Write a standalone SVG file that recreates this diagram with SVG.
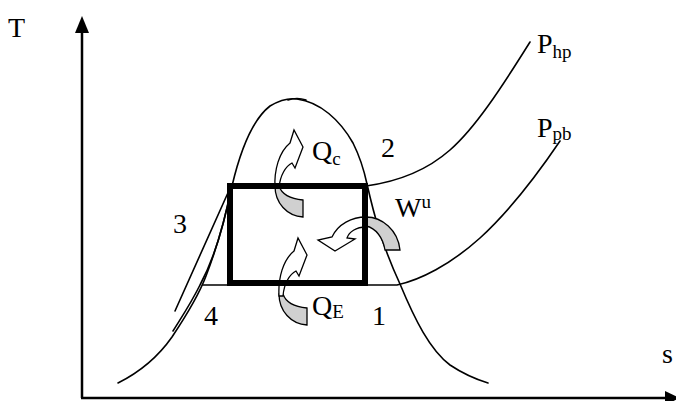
<svg xmlns="http://www.w3.org/2000/svg" width="676" height="401" viewBox="0 0 676 401">
<style>
.ln{fill:none;stroke:#000;stroke-width:1.6;stroke-linecap:round}
.ax{fill:none;stroke:#000;stroke-width:2.5}
.wh{fill:#fff;stroke:#000;stroke-width:1.3;stroke-linejoin:miter}
.gr{fill:#d0d0d0;stroke:#000;stroke-width:1.3}
.t{font-family:"Liberation Serif","Times New Roman",serif;font-size:28px;fill:#000}
.s{font-size:19px}
</style>
<rect width="676" height="401" fill="#fff"/>
<g id="axes">
<line class="ax" x1="82" y1="30" x2="82" y2="398"/>
<polygon points="82,16 75,33 89,33" fill="#000"/>
<line class="ax" x1="81" y1="398" x2="668" y2="398"/>
<polygon points="680,398 665,391 665,405" fill="#000"/>
</g>
<g id="curves">
<path id="dome" class="ln" d="M118,383 C138,373 158,357 172,337 C188,313 200,292 206,276 C216,250 226,215 232,186 C240,152 252,120 270,106 C280,100 290,98 297,99 C320,102 340,120 353,143 C360,157 364,170 367,184 C374,215 382,245 400,284 C415,320 430,350 450,365 C465,375 475,379 488,383"/>
<path class="ln" d="M288,100 Q297,97 306,100" stroke-width="2.6"/>
<path id="php-liq" class="ln" d="M231,186 L175,311"/>
<path id="ppb-liq" class="ln" d="M231,188 C226,215 216,255 200,285 C190,305 181,318 173,331"/>
<path id="php" class="ln" d="M366,186 C395,182 425,172 450,150 C475,128 500,90 530,42"/>
<path id="ppb" class="ln" d="M203,285 L397,285 C420,280 450,265 480,238 C505,215 535,178 560,141"/>
</g>
<g id="arrow-qc">
<path class="gr" d="M275,186 C275,203 287,216 303,217 L303,200 C292,199 282,195 279,186 Z"/>
<path class="wh" d="M275,188 C274,170 279,152 290,143 L294,130 L303,147 L295,168 L292,163 C286,166 280,175 279,188 Z"/>
</g>
<g id="arrow-qe" transform="translate(4,108)">
<path class="gr" d="M275,186 C275,203 287,216 303,217 L303,200 C292,199 282,195 279,186 Z"/>
<path class="wh" d="M275,188 C274,170 279,152 290,143 L294,130 L303,147 L295,168 L292,163 C286,166 280,175 279,188 Z"/>
</g>
<g id="arrow-wu">
<path class="gr" d="M366,217 C382,217 398,230 400,250 L385,250 C383,238 376,228 366,226 Z"/>
<path class="wh" d="M366,217 C352,217 338,224 332,237 L318,240 L335,251 L355,239 L347,238 C349,232 356,227 366,227 Z"/>
</g>
<g id="cycle">
<rect x="230" y="186" width="135" height="97" fill="none" stroke="#000" stroke-width="6"/>
</g>
<g id="labels">
<text class="t" x="8" y="37">T</text>
<text class="t" x="662" y="363">s</text>
<text class="t" x="381" y="157">2</text>
<text class="t" x="173" y="233">3</text>
<text class="t" x="204" y="325">4</text>
<text class="t" x="372" y="325">1</text>
<text class="t" x="312" y="160">Q<tspan class="s" y="165">c</tspan></text>
<text class="t" x="312" y="315">Q<tspan class="s" y="318">E</tspan></text>
<text class="t" x="395" y="217">W<tspan class="s" y="208">u</tspan></text>
<text class="t" x="537" y="53">P<tspan class="s" y="58">hp</tspan></text>
<text class="t" x="537" y="137">P<tspan class="s" y="140">pb</tspan></text>
</g>
</svg>
